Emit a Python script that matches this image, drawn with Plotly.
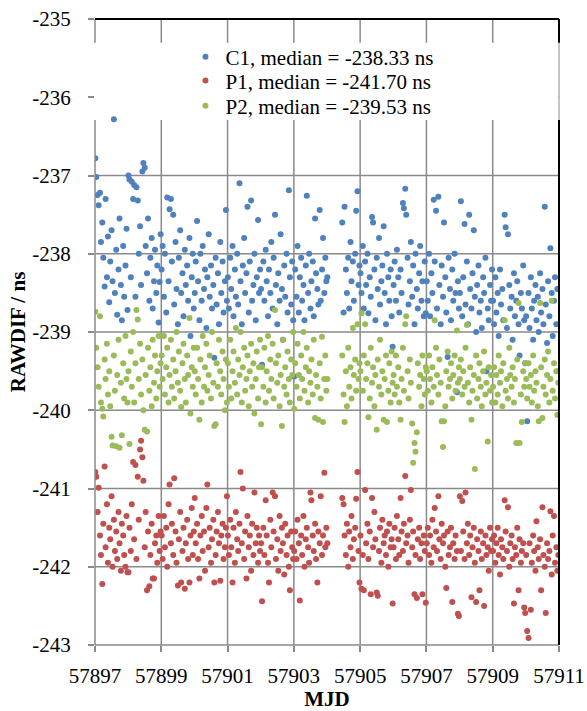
import plotly.graph_objects as go

# Observation epochs (MJD), shared by the three code/phase observables.
mjd = [
    57897.01, 57897.04, 57897.08, 57897.11, 57897.15, 57897.18, 57897.22, 57897.25, 57897.29, 57897.32,
    57897.36, 57897.39, 57897.43, 57897.46, 57897.50, 57897.53, 57897.57, 57897.60, 57897.64, 57897.67,
    57897.71, 57897.74, 57897.78, 57897.81, 57897.85, 57897.88, 57897.92, 57897.95, 57897.98,
    57898.01, 57898.04, 57898.08, 57898.11, 57898.15, 57898.18, 57898.22, 57898.25, 57898.29, 57898.32,
    57898.36, 57898.39, 57898.43, 57898.46, 57898.50, 57898.53, 57898.57, 57898.60, 57898.64, 57898.67,
    57898.71, 57898.74, 57898.78, 57898.81, 57898.85, 57898.88, 57898.92, 57898.95, 57898.98,
    57899.01, 57899.04, 57899.08, 57899.11, 57899.15, 57899.18, 57899.22, 57899.25, 57899.29, 57899.32,
    57899.36, 57899.39, 57899.43, 57899.46, 57899.50, 57899.53, 57899.57, 57899.60, 57899.64, 57899.67,
    57899.71, 57899.74, 57899.78, 57899.81, 57899.85, 57899.88, 57899.92, 57899.95, 57899.98,
    57900.01, 57900.04, 57900.08, 57900.11, 57900.15, 57900.18, 57900.22, 57900.25, 57900.29, 57900.32,
    57900.36, 57900.39, 57900.43, 57900.46, 57900.50, 57900.53, 57900.57, 57900.60, 57900.64, 57900.67,
    57900.71, 57900.74, 57900.78, 57900.81, 57900.85, 57900.88, 57900.92, 57900.95, 57900.98,
    57901.01, 57901.04, 57901.08, 57901.11, 57901.15, 57901.18, 57901.22, 57901.25, 57901.29, 57901.32,
    57901.36, 57901.39, 57901.43, 57901.46, 57901.50, 57901.53, 57901.57, 57901.60, 57901.64, 57901.67,
    57901.71, 57901.74, 57901.78, 57901.81, 57901.85, 57901.88, 57901.92, 57901.95, 57901.98,
    57902.01, 57902.04, 57902.08, 57902.11, 57902.15, 57902.18, 57902.22, 57902.25, 57902.29, 57902.32,
    57902.36, 57902.39, 57902.43, 57902.46, 57902.50, 57902.53, 57902.57, 57902.60, 57902.64, 57902.67,
    57902.71, 57902.74, 57902.78, 57902.81, 57902.85, 57902.88, 57902.92, 57902.95, 57902.98,
    57903.01, 57903.04, 57903.08, 57903.11, 57903.15, 57903.18, 57903.22, 57903.25, 57903.29, 57903.32,
    57903.36, 57903.39, 57903.43, 57903.46, 57903.50, 57903.53, 57903.57, 57903.60, 57903.64, 57903.67,
    57903.71, 57903.74, 57903.78, 57903.81, 57903.85, 57903.88, 57903.92, 57903.95, 57903.98,
    57904.01, 57904.46, 57904.50, 57904.53, 57904.57, 57904.60, 57904.64, 57904.67,
    57904.71, 57904.74, 57904.78, 57904.81, 57904.85, 57904.88, 57904.92, 57904.95, 57904.98,
    57905.01, 57905.04, 57905.08, 57905.11, 57905.15, 57905.18, 57905.22, 57905.25, 57905.29, 57905.32,
    57905.36, 57905.39, 57905.43, 57905.46, 57905.50, 57905.53, 57905.57, 57905.60, 57905.64, 57905.67,
    57905.71, 57905.74, 57905.78, 57905.81, 57905.85, 57905.88, 57905.92, 57905.95, 57905.98,
    57906.01, 57906.04, 57906.08, 57906.11, 57906.15, 57906.18, 57906.22, 57906.25, 57906.29, 57906.32,
    57906.36, 57906.39, 57906.43, 57906.46, 57906.50, 57906.53, 57906.57, 57906.60, 57906.64, 57906.67,
    57906.71, 57906.74, 57906.78, 57906.81, 57906.85, 57906.88, 57906.92, 57906.95, 57906.98,
    57907.01, 57907.04, 57907.08, 57907.11, 57907.15, 57907.18, 57907.22, 57907.25, 57907.29, 57907.32,
    57907.36, 57907.39, 57907.43, 57907.46, 57907.50, 57907.53, 57907.57, 57907.60, 57907.64, 57907.67,
    57907.71, 57907.74, 57907.78, 57907.81, 57907.85, 57907.88, 57907.92, 57907.95, 57907.98,
    57908.01, 57908.04, 57908.08, 57908.11, 57908.15, 57908.18, 57908.22, 57908.25, 57908.29, 57908.32,
    57908.36, 57908.39, 57908.43, 57908.46, 57908.50, 57908.53, 57908.57, 57908.60, 57908.64, 57908.67,
    57908.71, 57908.74, 57908.78, 57908.81, 57908.85, 57908.88, 57908.92, 57908.95, 57908.98,
    57909.01, 57909.04, 57909.08, 57909.11, 57909.15, 57909.18, 57909.22, 57909.25, 57909.29, 57909.32,
    57909.36, 57909.39, 57909.43, 57909.46, 57909.50, 57909.53, 57909.57, 57909.60, 57909.64, 57909.67,
    57909.71, 57909.74, 57909.78, 57909.81, 57909.85, 57909.88, 57909.92, 57909.95, 57909.98,
    57910.01, 57910.04, 57910.08, 57910.11, 57910.15, 57910.18, 57910.22, 57910.25, 57910.29, 57910.32,
    57910.36, 57910.39, 57910.43, 57910.46, 57910.50, 57910.53, 57910.57, 57910.60, 57910.64, 57910.67,
    57910.71, 57910.74, 57910.78, 57910.81, 57910.85, 57910.88, 57910.92, 57910.95, 57910.98,
]

# RAWDIF for C1 code (ns)
c1 = [
    -236.78, -237.02, -237.25, -237.38, -237.22, -237.85, -237.6, -238.05, -238.42, -237.3,
    -238.3, -237.78, -238.62, -238.1, -237.7, -238.35, -236.28, -238.5, -237.95, -238.78,
    -238.2, -237.55, -238.4, -238.85, -237.9, -238.55, -238.15, -237.68, -238.72,
    -237.0, -237.05, -238.3, -237.08, -237.3, -237.12, -238.55, -237.15, -237.32, -238.0,
    -237.65, -238.4, -236.95, -236.84, -236.9, -237.9, -238.25, -237.55, -238.6, -238.05,
    -237.8, -238.7, -238.35, -237.95, -238.5, -238.15, -238.88, -238.36, -237.75,
    -238.2, -237.9, -238.55, -238.0, -238.75, -237.28, -238.35, -237.43, -237.3, -238.1,
    -237.5, -238.65, -237.85, -238.45, -238.9, -238.05, -237.7, -238.5, -238.25, -238.8,
    -237.95, -238.4, -238.15, -238.6, -237.8, -239.05, -238.3, -238.0, -238.7,
    -238.5, -238.1, -237.58, -238.35, -238.85, -238.0, -238.6, -237.9, -238.45, -238.2,
    -238.95, -238.3, -237.75, -238.55, -238.15, -238.7, -238.4, -239.33, -238.05, -238.65,
    -238.25, -238.9, -237.85, -238.5, -238.1, -238.75, -238.35, -237.44, -238.6,
    -238.3, -238.7, -238.05, -238.45, -237.9, -238.8, -238.2, -238.55, -238.0, -238.65,
    -237.1, -238.35, -238.9, -238.15, -237.8, -238.5, -238.25, -237.4, -238.75, -238.1,
    -237.32, -238.6, -238.4, -238.0, -238.85, -238.3, -237.57, -238.5, -238.2,
    -238.45, -239.42, -238.1, -238.6, -237.95, -238.35, -238.8, -238.2, -238.5, -237.85,
    -238.7, -238.05, -237.5, -238.4, -238.9, -238.25, -238.6, -237.75, -238.45, -239.1,
    -238.15, -238.55, -238.0, -238.75, -237.19, -238.3, -238.65, -238.1, -238.85,
    -239.57, -238.2, -238.55, -237.9, -238.75, -238.3, -238.05, -238.6, -238.4, -238.85,
    -238.15, -237.26, -238.5, -238.0, -238.7, -238.35, -238.1, -238.8, -237.55, -238.25,
    -238.45, -238.65, -237.44, -238.6, -238.2, -237.8, -238.5, -238.05, -238.35,
    -238.3, -237.6, -238.75, -237.4, -238.2, -238.5, -238.05, -238.7,
    -237.85, -238.35, -238.1, -238.6, -238.0, -237.45, -237.2, -238.4, -238.15,
    -238.25, -238.5, -237.9, -238.7, -238.1, -238.4, -238.0, -238.76, -238.3, -238.55,
    -237.53, -237.6, -238.2, -238.85, -238.05, -238.45, -237.8, -238.65, -238.35, -238.15,
    -237.65, -238.5, -238.9, -238.0, -238.3, -238.6, -238.2, -238.8, -239.19,
    -238.4, -238.1, -238.6, -237.95, -238.3, -238.75, -238.2, -238.5, -237.35, -237.42,
    -237.17, -237.5, -238.05, -238.65, -238.35, -237.85, -238.55, -238.15, -238.9, -238.0,
    -238.45, -238.7, -238.25, -237.9, -238.6, -238.35, -238.8, -238.1, -238.76,
    -238.35, -238.6, -238.0, -238.8, -238.25, -238.5, -237.31, -238.1, -237.45, -238.7,
    -237.27, -238.4, -238.9, -238.15, -238.55, -237.6, -238.3, -238.75, -239.32, -238.05,
    -238.45, -238.85, -238.2, -238.6, -238.0, -238.5, -239.77, -238.35, -238.7,
    -238.5, -237.33, -238.8, -238.3, -237.62, -238.65, -238.1, -238.9, -237.5, -238.45,
    -238.7, -238.25, -237.7, -238.55, -239.0, -238.4, -238.15, -238.75, -238.6, -238.95,
    -238.3, -238.5, -238.05, -239.5, -238.7, -238.85, -238.4, -238.6, -238.2,
    -238.6, -238.9, -238.3, -238.75, -238.5, -239.05, -238.2, -238.65, -238.45, -238.85,
    -237.5, -237.66, -238.95, -237.75, -238.4, -238.7, -238.55, -239.1, -238.25, -238.8,
    -238.6, -238.35, -238.9, -239.3, -238.5, -238.7, -238.15, -238.85, -239.4,
    -238.8, -240.14, -238.5, -238.95, -238.3, -238.7, -239.1, -238.6, -238.4, -238.85,
    -238.55, -239.0, -238.25, -238.75, -238.45, -238.9, -237.4, -238.65, -239.14, -238.35,
    -238.8, -237.93, -238.5, -239.05, -238.6, -238.3, -238.9, -238.45, -239.5,
]

# RAWDIF for P1 code (ns)
p1 = [
    -240.79, -240.85, -241.3, -240.99, -241.6, -241.85, -242.22, -241.45, -240.72, -241.75,
    -241.2, -241.95, -241.5, -241.65, -241.1, -242.0, -241.4, -241.8, -241.55, -241.9,
    -241.3, -241.7, -242.05, -241.45, -241.6, -241.85, -242.0, -241.35, -242.07,
    -242.07, -241.5, -241.8, -241.2, -240.66, -241.65, -240.7, -241.9, -240.85, -241.4,
    -240.5, -240.39, -240.6, -240.9, -241.75, -241.3, -242.3, -241.55, -242.25, -241.85,
    -241.45, -242.15, -242.15, -241.7, -241.6, -241.95, -241.35, -241.8, -241.55,
    -241.6, -241.9, -241.35, -241.75, -241.5, -242.0, -241.2, -240.95, -241.7, -241.45,
    -241.85, -240.87, -241.55, -241.95, -242.24, -241.65, -241.3, -242.2, -241.8, -241.5,
    -242.28, -241.7, -241.4, -241.9, -242.2, -241.6, -241.25, -241.85, -241.55,
    -241.12, -241.7, -241.45, -241.9, -242.15, -241.6, -241.35, -241.8, -241.55, -242.05,
    -241.25, -240.95, -241.75, -241.5, -241.95, -241.65, -241.4, -242.2, -241.85, -241.55,
    -241.3, -241.7, -242.18, -241.6, -241.45, -241.9, -241.75, -241.5, -241.1,
    -241.6, -241.85, -241.4, -241.75, -242.2, -241.5, -241.95, -241.3, -241.65, -241.8,
    -241.45, -240.79, -241.7, -241.0, -241.9, -241.55, -242.15, -241.35, -241.75, -241.6,
    -242.05, -241.45, -241.85, -241.05, -241.7, -241.5, -241.95, -241.6, -241.8,
    -241.7, -242.44, -241.5, -241.85, -241.15, -241.6, -241.95, -242.2, -241.4, -241.75,
    -241.05, -241.55, -241.1, -241.9, -241.65, -242.05, -241.35, -241.8, -241.5, -241.7,
    -242.1, -241.45, -241.85, -241.6, -242.0, -242.3, -241.55, -241.75, -241.9,
    -241.8, -241.55, -241.9, -241.4, -241.7, -242.43, -241.6, -241.85, -241.35, -242.0,
    -241.65, -241.5, -241.75, -241.95, -241.05, -241.15, -241.6, -241.8, -241.45, -241.9,
    -242.2, -241.55, -241.7, -241.1, -241.85, -241.6, -240.8, -241.75, -241.5,
    -241.7, -241.12, -241.2, -241.6, -241.85, -241.45, -242.0, -241.55,
    -241.75, -241.35, -241.9, -241.65, -241.5, -241.13, -240.79, -241.8, -242.2,
    -241.6, -242.28, -241.85, -242.3, -241.02, -241.7, -241.45, -241.9, -241.55, -242.35,
    -241.12, -241.75, -241.3, -241.65, -242.33, -242.37, -241.8, -241.5, -241.95, -241.4,
    -241.7, -241.6, -241.85, -241.55, -242.0, -241.45, -241.75, -241.65, -242.47,
    -241.75, -241.5, -241.9, -241.35, -241.65, -241.85, -241.12, -241.55, -241.8, -241.45,
    -240.84, -241.7, -241.6, -241.95, -241.4, -241.02, -241.75, -241.55, -242.35, -241.85,
    -242.4, -241.65, -241.5, -241.9, -241.7, -242.35, -241.6, -241.8, -242.46,
    -241.7, -241.5, -241.85, -241.6, -241.95, -241.4, -241.75, -241.25, -241.55, -241.8,
    -241.1, -241.65, -241.9, -241.45, -241.7, -241.6, -242.0, -242.27, -241.55, -241.85,
    -241.75, -241.5, -242.45, -241.7, -241.9, -241.6, -241.8, -242.6, -242.63,
    -241.1, -241.8, -241.16, -241.55, -241.9, -241.05, -241.7, -241.45, -241.85, -241.6,
    -242.39, -241.75, -241.5, -241.95, -242.45, -241.65, -241.8, -242.3, -241.55, -241.9,
    -241.7, -242.5, -241.6, -241.85, -241.75, -242.05, -241.5, -241.8, -241.65,
    -241.8, -241.6, -241.95, -241.7, -241.5, -241.85, -242.1, -241.65, -241.75, -241.9,
    -241.15, -241.55, -241.8, -241.24, -242.0, -241.7, -241.6, -241.9, -242.47, -241.75,
    -241.85, -241.5, -242.3, -241.65, -241.95, -241.8, -241.7, -242.52, -242.59,
    -241.85, -242.82, -242.91, -241.7, -242.55, -241.95, -241.6, -241.8, -242.05, -241.42,
    -241.75, -241.9, -241.65, -242.3, -241.24, -241.85, -242.0, -242.59, -241.7, -241.9,
    -241.8, -241.29, -242.1, -241.6, -241.35, -241.95, -241.75, -242.05, -241.85,
]

# RAWDIF for P2 code (ns)
p2 = [
    -238.74, -239.2, -239.45, -239.7, -238.8, -239.9, -239.98, -240.08, -239.35, -239.6,
    -239.15, -239.8, -239.5, -239.95, -240.34, -240.45, -239.3, -239.75, -240.46, -239.55,
    -239.1, -240.48, -239.65, -240.32, -239.4, -239.85, -239.05, -239.6, -239.9,
    -239.5, -240.43, -239.25, -239.7, -239.0, -239.9, -239.4, -238.72, -238.84, -239.6,
    -239.15, -239.8, -239.35, -240.0, -240.25, -239.55, -240.27, -239.2, -239.75, -239.45,
    -239.95, -239.1, -239.65, -239.3, -239.85, -239.5, -239.05, -239.7, -239.4,
    -239.3, -239.6, -239.05, -239.8, -239.45, -239.2, -239.9, -239.55, -239.1, -239.7,
    -239.35, -239.85, -239.5, -239.0, -239.65, -239.25, -239.75, -239.96, -239.4, -239.15,
    -239.6, -239.9, -239.3, -239.55, -238.82, -240.04, -239.45, -239.7, -239.2,
    -239.5, -239.8, -239.2, -239.6, -240.12, -239.35, -239.9, -239.05, -239.7, -239.45,
    -239.15, -239.75, -239.55, -239.3, -239.85, -239.0, -239.65, -240.2, -240.18, -239.4,
    -239.7, -239.1, -239.5, -239.8, -239.25, -239.6, -240.0, -239.35, -239.9,
    -239.4, -239.7, -239.1, -239.85, -239.5, -239.25, -239.65, -238.95, -239.8, -239.35,
    -239.55, -239.0, -239.9, -239.45, -239.2, -239.75, -239.6, -239.3, -239.95, -239.5,
    -239.15, -239.7, -239.4, -240.04, -239.6, -239.25, -239.85, -239.45, -239.1,
    -240.18, -239.45, -239.7, -239.2, -239.9, -239.5, -239.05, -239.75, -239.35, -239.6,
    -239.15, -239.85, -238.72, -239.4, -239.65, -239.3, -239.95, -239.55, -240.2, -239.1,
    -239.7, -239.45, -239.8, -239.25, -239.6, -239.9, -239.35, -239.55, -239.0,
    -239.98, -239.4, -239.7, -239.15, -239.55, -239.85, -239.3, -239.6, -239.0, -239.75,
    -239.45, -239.2, -239.9, -239.5, -239.65, -239.35, -239.8, -239.1, -240.1, -239.55,
    -239.7, -240.12, -239.4, -239.85, -239.06, -240.15, -239.6, -239.3, -239.75,
    -239.6, -239.3, -239.8, -240.15, -239.5, -239.95, -239.2, -239.7,
    -239.45, -239.85, -238.95, -239.55, -239.35, -239.75, -238.9, -239.6, -239.4,
    -239.5, -238.76, -239.75, -239.3, -238.9, -239.6, -239.4, -240.09, -239.85, -239.2,
    -239.65, -239.45, -239.95, -239.55, -240.25, -239.35, -239.7, -239.1, -239.8, -239.5,
    -240.12, -239.6, -239.3, -240.15, -239.75, -239.4, -239.9, -239.25, -239.65,
    -239.55, -239.8, -239.3, -239.7, -239.45, -239.9, -240.12, -239.6, -239.2, -239.75,
    -238.9, -238.8, -239.5, -239.85, -239.35, -239.65, -240.17, -240.67, -240.42, -240.53,
    -240.28, -239.4, -239.7, -239.55, -239.95, -239.3, -239.6, -239.8, -239.45,
    -239.5, -239.75, -239.3, -239.6, -239.9, -239.45, -239.7, -238.85, -239.2, -239.55,
    -239.8, -239.35, -239.65, -240.14, -240.47, -240.14, -239.95, -239.5, -239.25, -239.7,
    -239.6, -239.4, -239.85, -239.55, -239.3, -239.75, -238.98, -239.65, -239.45,
    -239.6, -239.35, -239.8, -239.5, -239.7, -239.2, -238.91, -239.65, -239.9, -239.45,
    -240.12, -239.75, -239.55, -240.75, -239.3, -239.85, -239.6, -239.4, -239.7, -239.95,
    -239.5, -239.25, -239.8, -239.65, -240.4, -239.45, -239.75, -239.55, -239.9,
    -239.7, -239.45, -239.9, -239.55, -239.8, -239.3, -239.65, -239.5, -239.95, -239.4,
    -238.85, -239.75, -239.6, -239.85, -239.2, -239.55, -239.7, -239.45, -239.9, -239.6,
    -240.42, -239.35, -238.63, -240.42, -239.8, -240.15, -239.5, -239.7, -239.4,
    -239.6, -239.85, -239.4, -239.7, -239.55, -239.9, -239.3, -239.75, -239.5, -239.65,
    -239.95, -240.14, -238.63, -239.45, -240.1, -239.7, -239.35, -239.8, -239.55, -239.25,
    -239.9, -239.6, -238.6, -239.75, -239.4, -239.85, -239.5, -240.06, -239.65,
]

series_names = [
    "C1, median = -238.33 ns",
    "P1, median = -241.70 ns",
    "P2, median = -239.53 ns",
]
series_colors = ["#4F81BD", "#C0504D", "#9BBB59"]

x_ticks = [57897, 57899, 57901, 57903, 57905, 57907, 57909, 57911]
x_tick_labels = ["57897", "57899", "57901", "57903", "57905", "57907", "57909", "57911"]
y_ticks = [-243, -242, -241, -240, -239, -238, -237, -236, -235]
y_tick_labels = ["-243", "-242", "-241", "-240", "-239", "-238", "-237", "-236", "-235"]

for ys in (c1, p1, p2):
    assert len(ys) == len(mjd), (len(ys), len(mjd))

FONT = "Liberation Serif"
GRID = "#8a8a8a"
GRID_W = 1.5

# one legend per series so each row sits at its own height
legend_ids = ["legend", "legend2", "legend3"]
legend_rows = [0.9393, 0.9010, 0.8610]
legend_x = 0.195

fig = go.Figure()
for name, ys, color, lg in zip(series_names, (c1, p1, p2), series_colors, legend_ids):
    fig.add_trace(go.Scatter(
        x=mjd, y=ys, mode="markers", name=name, legend=lg,
        marker=dict(color=color, size=6, line=dict(width=0)),
    ))

legend_common = dict(
    xanchor="left", yanchor="middle",
    bgcolor="rgba(255,255,255,0)", borderwidth=0,
    font=dict(family=FONT, size=21, color="black"),
    itemwidth=30,
)
legend_layout = {
    lg: dict(x=legend_x, y=row, **legend_common)
    for lg, row in zip(legend_ids, legend_rows)
}

# Gridlines and the legend panel live in the same shape layer, so list order
# decides which is on top: grid first, then the white panel that hides it.
box_y0, box_y1 = 0.8387, 0.9621
shapes = []
for xv in x_ticks[1:-1]:
    shapes.append(dict(type="line", xref="x", yref="paper", x0=xv, x1=xv, y0=0, y1=1,
                       line=dict(color=GRID, width=GRID_W), layer="below"))
for yv in y_ticks[1:-1]:
    shapes.append(dict(type="line", xref="paper", yref="y", x0=0, x1=1, y0=yv, y1=yv,
                       line=dict(color=GRID, width=GRID_W), layer="below"))
shapes.append(dict(type="rect", xref="paper", yref="paper", x0=-0.013, x1=0.999,
                   y0=box_y0, y1=box_y1, fillcolor="white", line=dict(width=0),
                   layer="below"))

# axis lines (left, bottom) and black frame (top, right), broken by the panel
shapes += [
    dict(type="line", xref="paper", yref="paper", x0=0, x1=0, y0=0, y1=box_y0,
         line=dict(color=GRID, width=GRID_W), layer="above"),
    dict(type="line", xref="paper", yref="paper", x0=0, x1=0, y0=box_y1, y1=1,
         line=dict(color=GRID, width=GRID_W), layer="above"),
    dict(type="line", xref="paper", yref="paper", x0=0, x1=1, y0=0, y1=0,
         line=dict(color=GRID, width=GRID_W), layer="above"),
    dict(type="line", xref="paper", yref="paper", x0=1.0, x1=1.0, y0=box_y0, y1=box_y1,
         line=dict(color=GRID, width=1), layer="above"),
    dict(type="line", xref="paper", yref="paper", x0=0, x1=1.0, y0=1, y1=1,
         line=dict(color="black", width=2), layer="above"),
    dict(type="line", xref="paper", yref="paper", x0=1.0, x1=1.0, y0=0, y1=box_y0,
         line=dict(color="black", width=2), layer="above"),
    dict(type="line", xref="paper", yref="paper", x0=1.0, x1=1.0, y0=box_y1, y1=1,
         line=dict(color="black", width=2), layer="above"),
]

fig.update_layout(
    width=587, height=711,
    margin=dict(l=95, r=28, t=19, b=66, autoexpand=False),
    paper_bgcolor="white", plot_bgcolor="white",
    font=dict(family=FONT, size=21, color="black"),
    showlegend=True,
    shapes=shapes,
    xaxis=dict(
        range=[57897, 57911], tickvals=x_ticks, ticktext=x_tick_labels,
        showgrid=False, showline=False,
        ticks="outside", ticklen=6, tickcolor=GRID, tickwidth=GRID_W,
        ticklabelstandoff=6,
        zeroline=False,
        title=dict(text="<b>MJD</b>", font=dict(family=FONT, size=21), standoff=13),
    ),
    yaxis=dict(
        range=[-243, -235], tickvals=y_ticks, ticktext=y_tick_labels,
        showgrid=False, showline=False,
        ticks="outside", ticklen=6, tickcolor=GRID, tickwidth=GRID_W,
        ticklabelstandoff=13,
        zeroline=False,
        title=dict(text="<b>RAWDIF / ns</b>", font=dict(family=FONT, size=21), standoff=0),
    ),
    **legend_layout,
)

fig.write_html("out.html")
